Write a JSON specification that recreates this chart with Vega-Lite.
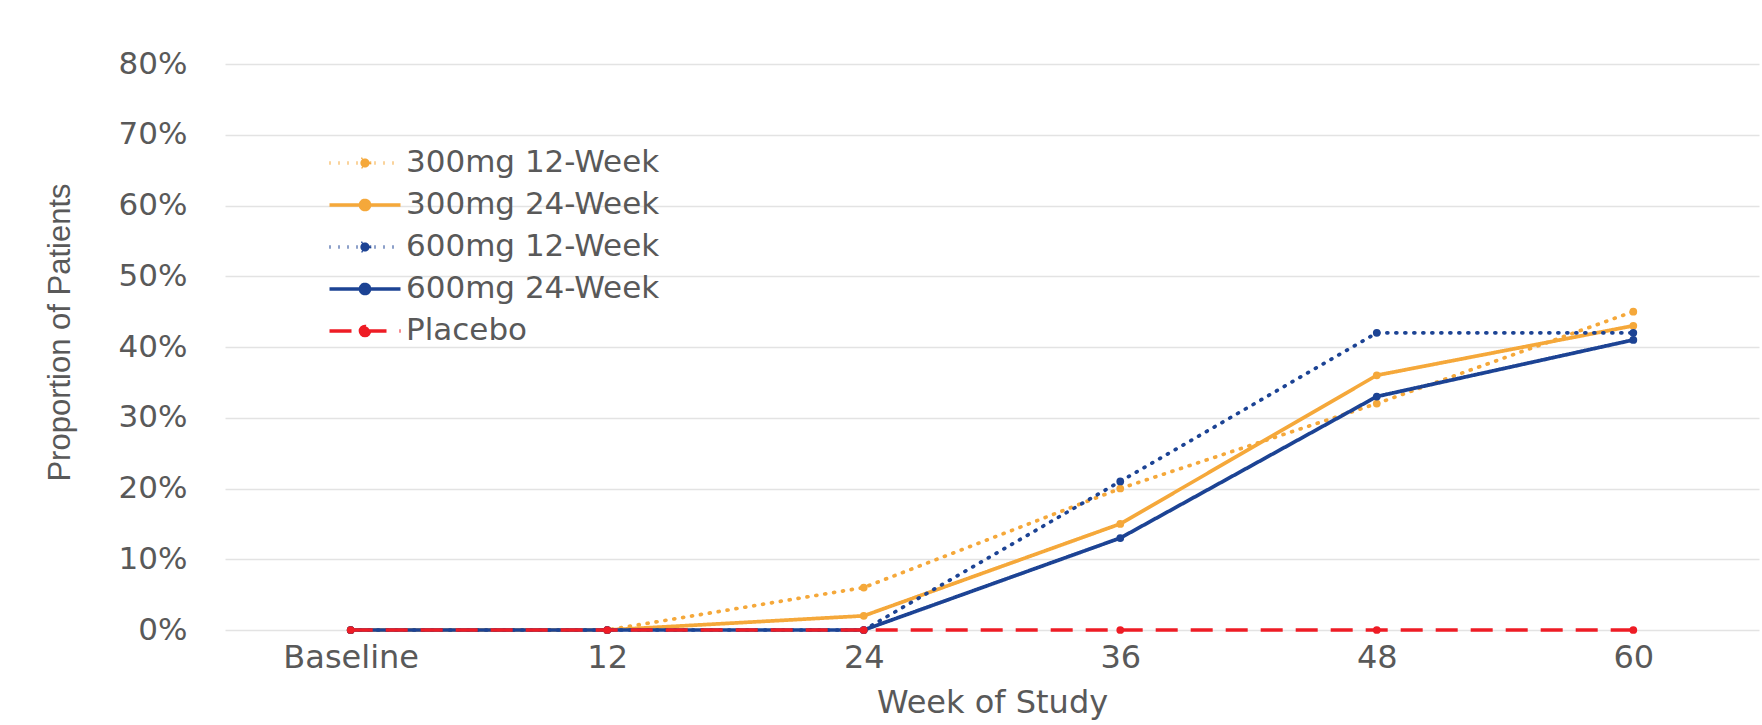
{
  "$schema": "https://vega.github.io/schema/vega-lite/v6.json",
  "width": 1534,
  "height": 566,
  "autosize": {"type": "none"},
  "padding": {"left": 225, "top": 64, "right": 3, "bottom": 95},
  "background": "white",
  "config": {"view": {"stroke": null}, "font": "DejaVu Sans"},
  "data": {
    "values": [
      {"series": "300mg 12-Week", "week": "Baseline", "value": 0},
      {"series": "300mg 12-Week", "week": "12", "value": 0},
      {"series": "300mg 12-Week", "week": "24", "value": 0.06},
      {"series": "300mg 12-Week", "week": "36", "value": 0.20},
      {"series": "300mg 12-Week", "week": "48", "value": 0.32},
      {"series": "300mg 12-Week", "week": "60", "value": 0.45},
      {"series": "300mg 24-Week", "week": "Baseline", "value": 0},
      {"series": "300mg 24-Week", "week": "12", "value": 0},
      {"series": "300mg 24-Week", "week": "24", "value": 0.02},
      {"series": "300mg 24-Week", "week": "36", "value": 0.15},
      {"series": "300mg 24-Week", "week": "48", "value": 0.36},
      {"series": "300mg 24-Week", "week": "60", "value": 0.43},
      {"series": "600mg 12-Week", "week": "Baseline", "value": 0},
      {"series": "600mg 12-Week", "week": "12", "value": 0},
      {"series": "600mg 12-Week", "week": "24", "value": 0},
      {"series": "600mg 12-Week", "week": "36", "value": 0.21},
      {"series": "600mg 12-Week", "week": "48", "value": 0.42},
      {"series": "600mg 12-Week", "week": "60", "value": 0.42},
      {"series": "600mg 24-Week", "week": "Baseline", "value": 0},
      {"series": "600mg 24-Week", "week": "12", "value": 0},
      {"series": "600mg 24-Week", "week": "24", "value": 0},
      {"series": "600mg 24-Week", "week": "36", "value": 0.13},
      {"series": "600mg 24-Week", "week": "48", "value": 0.33},
      {"series": "600mg 24-Week", "week": "60", "value": 0.41},
      {"series": "Placebo", "week": "Baseline", "value": 0},
      {"series": "Placebo", "week": "12", "value": 0},
      {"series": "Placebo", "week": "24", "value": 0},
      {"series": "Placebo", "week": "36", "value": 0},
      {"series": "Placebo", "week": "48", "value": 0},
      {"series": "Placebo", "week": "60", "value": 0}
    ]
  },
  "encoding": {
    "x": {
      "field": "week",
      "type": "ordinal",
      "sort": ["Baseline", "12", "24", "36", "48", "60"],
      "scale": {"type": "point", "padding": 0.49},
      "axis": {
        "title": "Week of Study",
        "labelAngle": 0,
        "domain": false,
        "ticks": false,
        "grid": false,
        "labelFont": "DejaVu Sans",
        "labelFontSize": 32,
        "labelColor": "#595959",
        "labelPadding": 12,
        "titleFont": "DejaVu Sans",
        "titleFontSize": 32,
        "titleFontWeight": "normal",
        "titleColor": "#595959",
        "titleY": 82,
        "titleBaseline": "alphabetic"
      }
    },
    "y": {
      "field": "value",
      "type": "quantitative",
      "scale": {"domain": [0, 0.8], "nice": false},
      "axis": {
        "title": "Proportion of Patients",
        "format": ".0%",
        "values": [0, 0.1, 0.2, 0.3, 0.4, 0.5, 0.6, 0.7, 0.8],
        "domain": false,
        "ticks": false,
        "labelFont": "DejaVu Sans",
        "labelFontSize": 31,
        "labelColor": "#595959",
        "labelPadding": 38,
        "gridColor": "#e3e3e3",
        "gridWidth": 1.5,
        "titleFont": "Liberation Sans",
        "titleFontSize": 31,
        "titleFontWeight": "normal",
        "titleColor": "#595959",
        "titleX": -165,
        "titleY": 268,
        "titleAngle": -90,
        "titleAlign": "center",
        "titleBaseline": "middle"
      }
    },
    "color": {
      "field": "series",
      "type": "nominal",
      "scale": {
        "domain": ["300mg 12-Week", "300mg 24-Week", "600mg 12-Week", "600mg 24-Week", "Placebo"],
        "range": ["#F5A83A", "#F5A83A", "#1C4394", "#1C4394", "#EE1C25"]
      },
      "legend": {
        "title": null,
        "orient": "none",
        "legendX": 124.5,
        "legendY": 83.5,
        "symbolType": "M-3.55,0L3.55,0M0.46,0A0.46,0.46,0,1,1,-0.46,0A0.46,0.46,0,1,1,0.46,0Z",
        "symbolSize": 400,
        "symbolStrokeWidth": 3.5,
        "labelFont": "DejaVu Sans",
        "labelFontSize": 31,
        "labelColor": "#595959",
        "labelOffset": 25.5,
        "labelLimit": 0,
        "rowPadding": 10,
        "padding": 0,
        "encode": {"symbols": {"update": {"fill": {"scale": "color", "field": "value"}}}}
      }
    },
    "strokeDash": {
      "field": "series",
      "type": "nominal",
      "scale": {
        "domain": ["300mg 12-Week", "300mg 24-Week", "600mg 12-Week", "600mg 24-Week", "Placebo"],
        "range": [[1, 8], [1, 0], [1, 8], [1, 0], [22, 13]]
      },
      "legend": {
        "title": null,
        "orient": "none",
        "legendX": 124.5,
        "legendY": 83.5,
        "symbolType": "M-3.55,0L3.55,0M0.46,0A0.46,0.46,0,1,1,-0.46,0A0.46,0.46,0,1,1,0.46,0Z",
        "symbolSize": 400,
        "symbolStrokeWidth": 3.5,
        "labelFont": "DejaVu Sans",
        "labelFontSize": 31,
        "labelColor": "#595959",
        "labelOffset": 25.5,
        "labelLimit": 0,
        "rowPadding": 10,
        "padding": 0
      }
    }
  },
  "layer": [
    {
      "transform": [{"filter": "datum.series !== 'Placebo'"}],
      "mark": {"type": "line", "strokeWidth": 3.7, "strokeCap": "round", "point": {"filled": true, "size": 60}}
    },
    {
      "transform": [{"filter": "datum.series === 'Placebo'"}],
      "mark": {"type": "line", "strokeWidth": 3.7, "point": {"filled": true, "size": 60}}
    }
  ]
}
